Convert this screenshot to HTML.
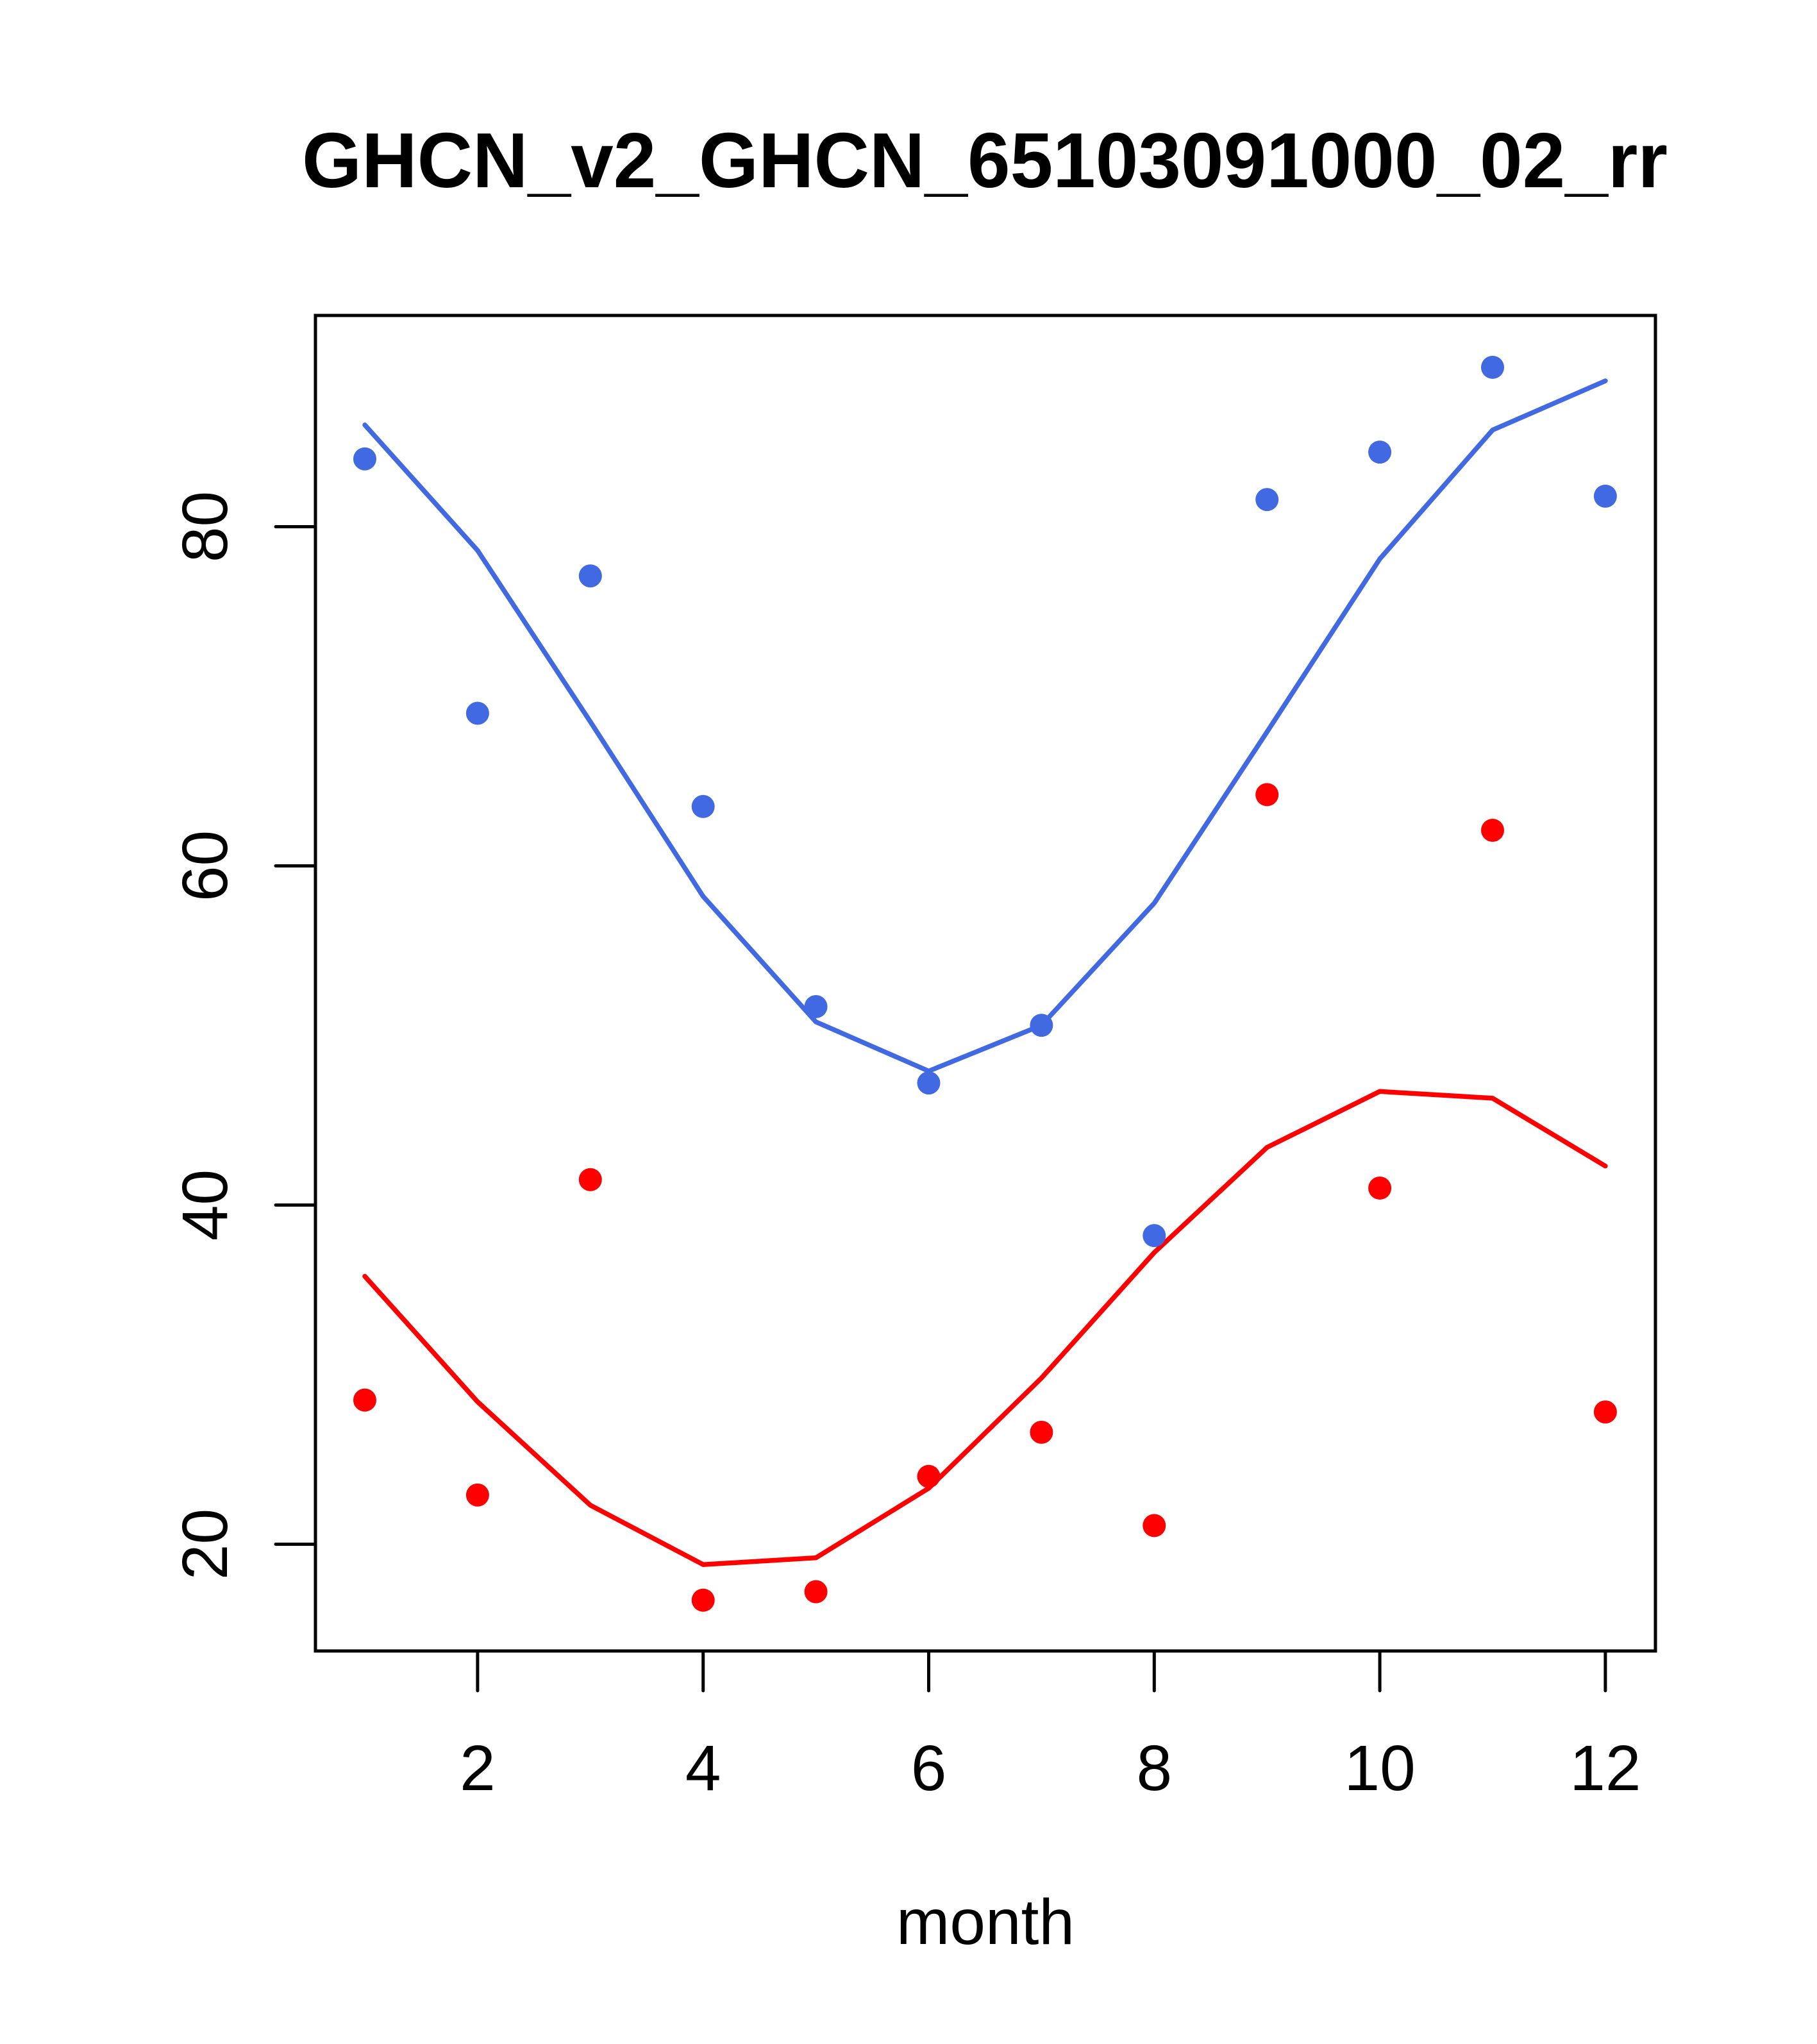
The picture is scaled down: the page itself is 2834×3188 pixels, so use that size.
<!DOCTYPE html>
<html><head><meta charset="utf-8"><style>html,body{margin:0;padding:0;background:#fff}svg{display:block}</style></head>
<body>
<svg id="chart" width="2834" height="3188" viewBox="0 0 2834 3188" xmlns="http://www.w3.org/2000/svg" font-family="Liberation Sans, sans-serif">
<rect width="2834" height="3188" fill="#fff"/>
<text x="1536" y="292" font-size="122" font-weight="bold" text-anchor="middle" textLength="2130" lengthAdjust="spacingAndGlyphs">GHCN_v2_GHCN_65103091000_02_rr</text>
<text x="1537" y="3032" font-size="100" text-anchor="middle">month</text>
<g id="axes"></g>
<g id="marks"></g>
<rect x="492" y="492" width="2090" height="2083" fill="none" stroke="#000" stroke-width="5"/>
</svg>
<script>
const months = [1,2,3,4,5,6,7,8,9,10,11,12];
const bluePoints = [84.0,69.0,77.1,63.5,51.7,47.2,50.6,38.2,81.6,84.4,89.4,81.8];
const blueLine = [86.0,78.6,68.5,58.2,50.8,47.9,50.6,57.8,67.9,78.1,85.7,88.6];
const redPoints = [28.5,22.9,41.5,16.7,17.2,24.0,26.6,21.1,64.2,41.0,62.1,27.8];
const redLine = [35.8,28.4,22.3,18.8,19.2,23.3,29.8,37.2,43.4,46.7,46.3,42.3];
const xTicks = [2,4,6,8,10,12];
const yTicks = [20,40,60,80];

const NS = 'http://www.w3.org/2000/svg';
function xs(m){ return 569 + (m-1)*175.9; }
function ys(v){ return 821.5 - (v-80)*26.45; }
function mk(tag, attrs, parent){ const e=document.createElementNS(NS,tag); for(const k in attrs) e.setAttribute(k,attrs[k]); parent.appendChild(e); return e; }
const axes = document.getElementById('axes');
const marks = document.getElementById('marks');

xTicks.forEach(t=>{
  const l = mk('line',{x1:xs(t),x2:xs(t),y1:2575,y2:2637,stroke:'#000','stroke-width':5,'stroke-linecap':'round'},axes);
  
  
  const tx = mk('text',{x:xs(t),y:2792,'font-size':100,'text-anchor':'middle'},axes);
  tx.textContent = t;
  
  
});
yTicks.forEach(t=>{
  const l = mk('line',{x1:430,x2:492,y1:ys(t),y2:ys(t),stroke:'#000','stroke-width':5,'stroke-linecap':'round'},axes);
  
  
  const tx = mk('text',{x:0,y:0,'font-size':100,'text-anchor':'middle',transform:'translate(354,'+ys(t)+') rotate(-90)'},axes);
  tx.textContent = t;
  
  
});

function drawLine(vals,color,name){
  const p = mk('polyline',{points:vals.map((v,i)=>xs(months[i])+','+ys(v)).join(' '),fill:'none',stroke:color,'stroke-width':7.5,'stroke-linecap':'round','stroke-linejoin':'round'},marks);
  
  
}
function drawPoints(vals,color,name){
  vals.forEach((v,i)=>{
    const c = mk('circle',{cx:xs(months[i]),cy:ys(v),r:18,fill:color},marks);
    
    
  });
}
drawLine(blueLine,'#4169E1','blue-fit-line');
drawLine(redLine,'#FF0000','red-fit-line');
drawPoints(bluePoints,'#4169E1','blue-point');
drawPoints(redPoints,'#FF0000','red-point');
</script>
</body></html>
